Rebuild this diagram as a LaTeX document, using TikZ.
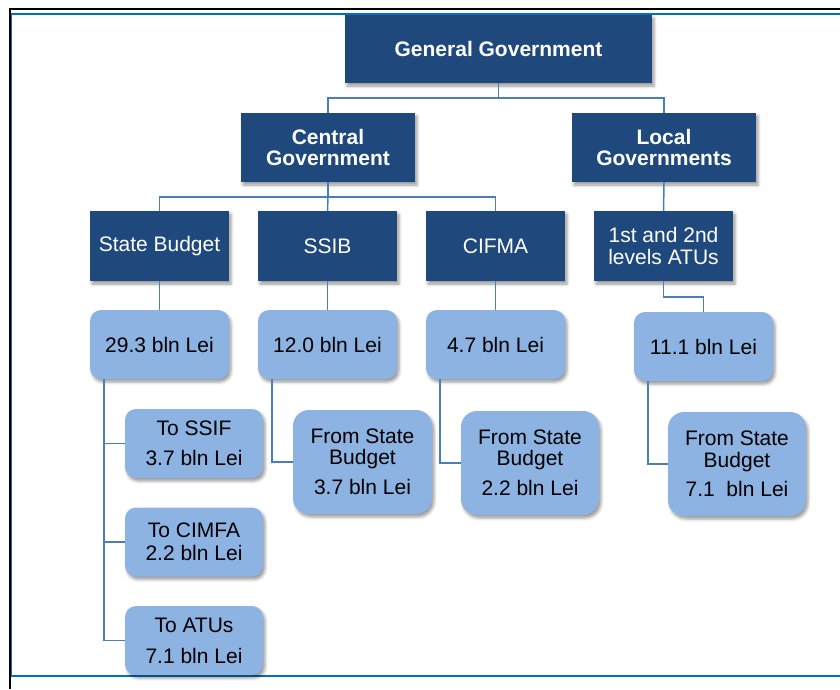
\documentclass[tikz,border=0pt]{standalone}
\usepackage{fontspec}
\setmainfont{Liberation Sans}
\usetikzlibrary{shadows.blur}
\definecolor{dk}{RGB}{31,73,125}
\definecolor{lt}{RGB}{141,179,226}
\definecolor{ln}{RGB}{74,126,187}
\definecolor{fr}{RGB}{0,112,192}
\tikzset{
 base/.style={inner sep=0pt, align=center, font=\fontsize{21}{21.5}\selectfont,
   blur shadow={shadow xshift=2pt, shadow yshift=-3pt, shadow blur radius=3pt, shadow opacity=40}},
 dark/.style={base, fill=dk, text=white, minimum height=69pt},
 light/.style={base, fill=lt, text=black, rounded corners=11pt, minimum width=139pt, minimum height=69pt},
 tall/.style={base, fill=lt, text=black, rounded corners=16pt, minimum width=138pt, minimum height=104pt},
 conn/.style={draw=ln, line width=1.5pt}
}
\begin{document}
\begin{tikzpicture}[x=1pt,y=-1pt]
\useasboundingbox (0,0) rectangle (840,689);
% frame
\draw[line width=2pt] (840,8.7) -- (10,8.7) -- (10,689);
\draw[fr, line width=1.5pt] (840,14) -- (11.7,14) -- (11.7,676) -- (840,676);
% level 1-2
\node[dark, minimum width=307pt, minimum height=68pt, font=\fontsize{21}{21.5}\selectfont\bfseries] (gg) at (498.5,49) {General Government};
\node[dark, minimum width=174pt, font=\fontsize{21}{21}\selectfont\bfseries] (cg) at (328,147.5) {Central\\Government};
\node[dark, minimum width=184pt, font=\fontsize{21}{21}\selectfont\bfseries] (lg) at (664,147.5) {Local\\Governments};
% level 3
\node[dark, minimum width=139pt, minimum height=70pt] (sb) at (159.5,246) {State Budget};
\node[dark, minimum width=139pt, minimum height=70pt] (ssib) at (327.5,246) {SSIB};
\node[dark, minimum width=139pt, minimum height=70pt] (cifma) at (495.5,246) {CIFMA};
\node[dark, minimum width=139pt, minimum height=70pt] (atu) at (663.5,246) {1st and 2nd\\levels ATUs};
% values
\node[light] (v1) at (159.5,344.5) {29.3 bln Lei};
\node[light] (v2) at (327.5,344.5) {12.0 bln Lei};
\node[light] (v3) at (495.5,344.5) {4.7 bln Lei};
\node[light] (v4) at (703.5,346.5) {11.1 bln Lei};
% transfers
\node[light, minimum width=138pt] (ssif) at (194,443.5) {To SSIF\\[8.5pt]3.7 bln Lei};
\node[light, minimum width=138pt] (cimfa) at (194,542) {To CIMFA\\[1.5pt]2.2 bln Lei};
\node[light, minimum width=138pt] (tatu) at (194,640.5) {To ATUs\\[9.5pt]7.1 bln Lei};
\node[tall, minimum width=139pt] (fs1) at (362.5,462) {From State\\Budget\\[8.5pt]3.7 bln Lei};
\node[tall] (fs2) at (530,463) {From State\\Budget\\[8.5pt]2.2 bln Lei};
\node[tall] (fs3) at (737,464) {From State\\[1pt]Budget\\[7.5pt]7.1~ bln Lei};
% connectors
\coordinate (j1) at (498.5,98);
\coordinate (j2) at (328,197);
\coordinate (j3) at (663.5,297);
\draw[conn] (gg.south) -- (j1) -| (cg.north);
\draw[conn] (j1) -| (lg.north);
\draw[conn] (cg.south) -- (j2) -| (sb.north);
\draw[conn] (j2) -| (cifma.north);
\draw[conn] (j2) -- (ssib.north);
\draw[conn] (lg.south) -- (atu.north);
\draw[conn] (sb.south) -- (v1.north);
\draw[conn] (ssib.south) -- (v2.north);
\draw[conn] (cifma.south) -- (v3.north);
\draw[conn] (atu.south) -- (j3) -| (v4.north);
\draw[conn] ([xshift=14pt]v1.south west) |- (ssif.west);
\draw[conn] ([xshift=14pt]v1.south west) |- (cimfa.west);
\draw[conn] ([xshift=14pt]v1.south west) |- (tatu.west);
\draw[conn] ([xshift=14pt]v2.south west) |- (fs1.west);
\draw[conn] ([xshift=14pt]v3.south west) |- (fs2.west);
\draw[conn] ([xshift=14pt]v4.south west) |- (fs3.west);
\end{tikzpicture}
\end{document}
